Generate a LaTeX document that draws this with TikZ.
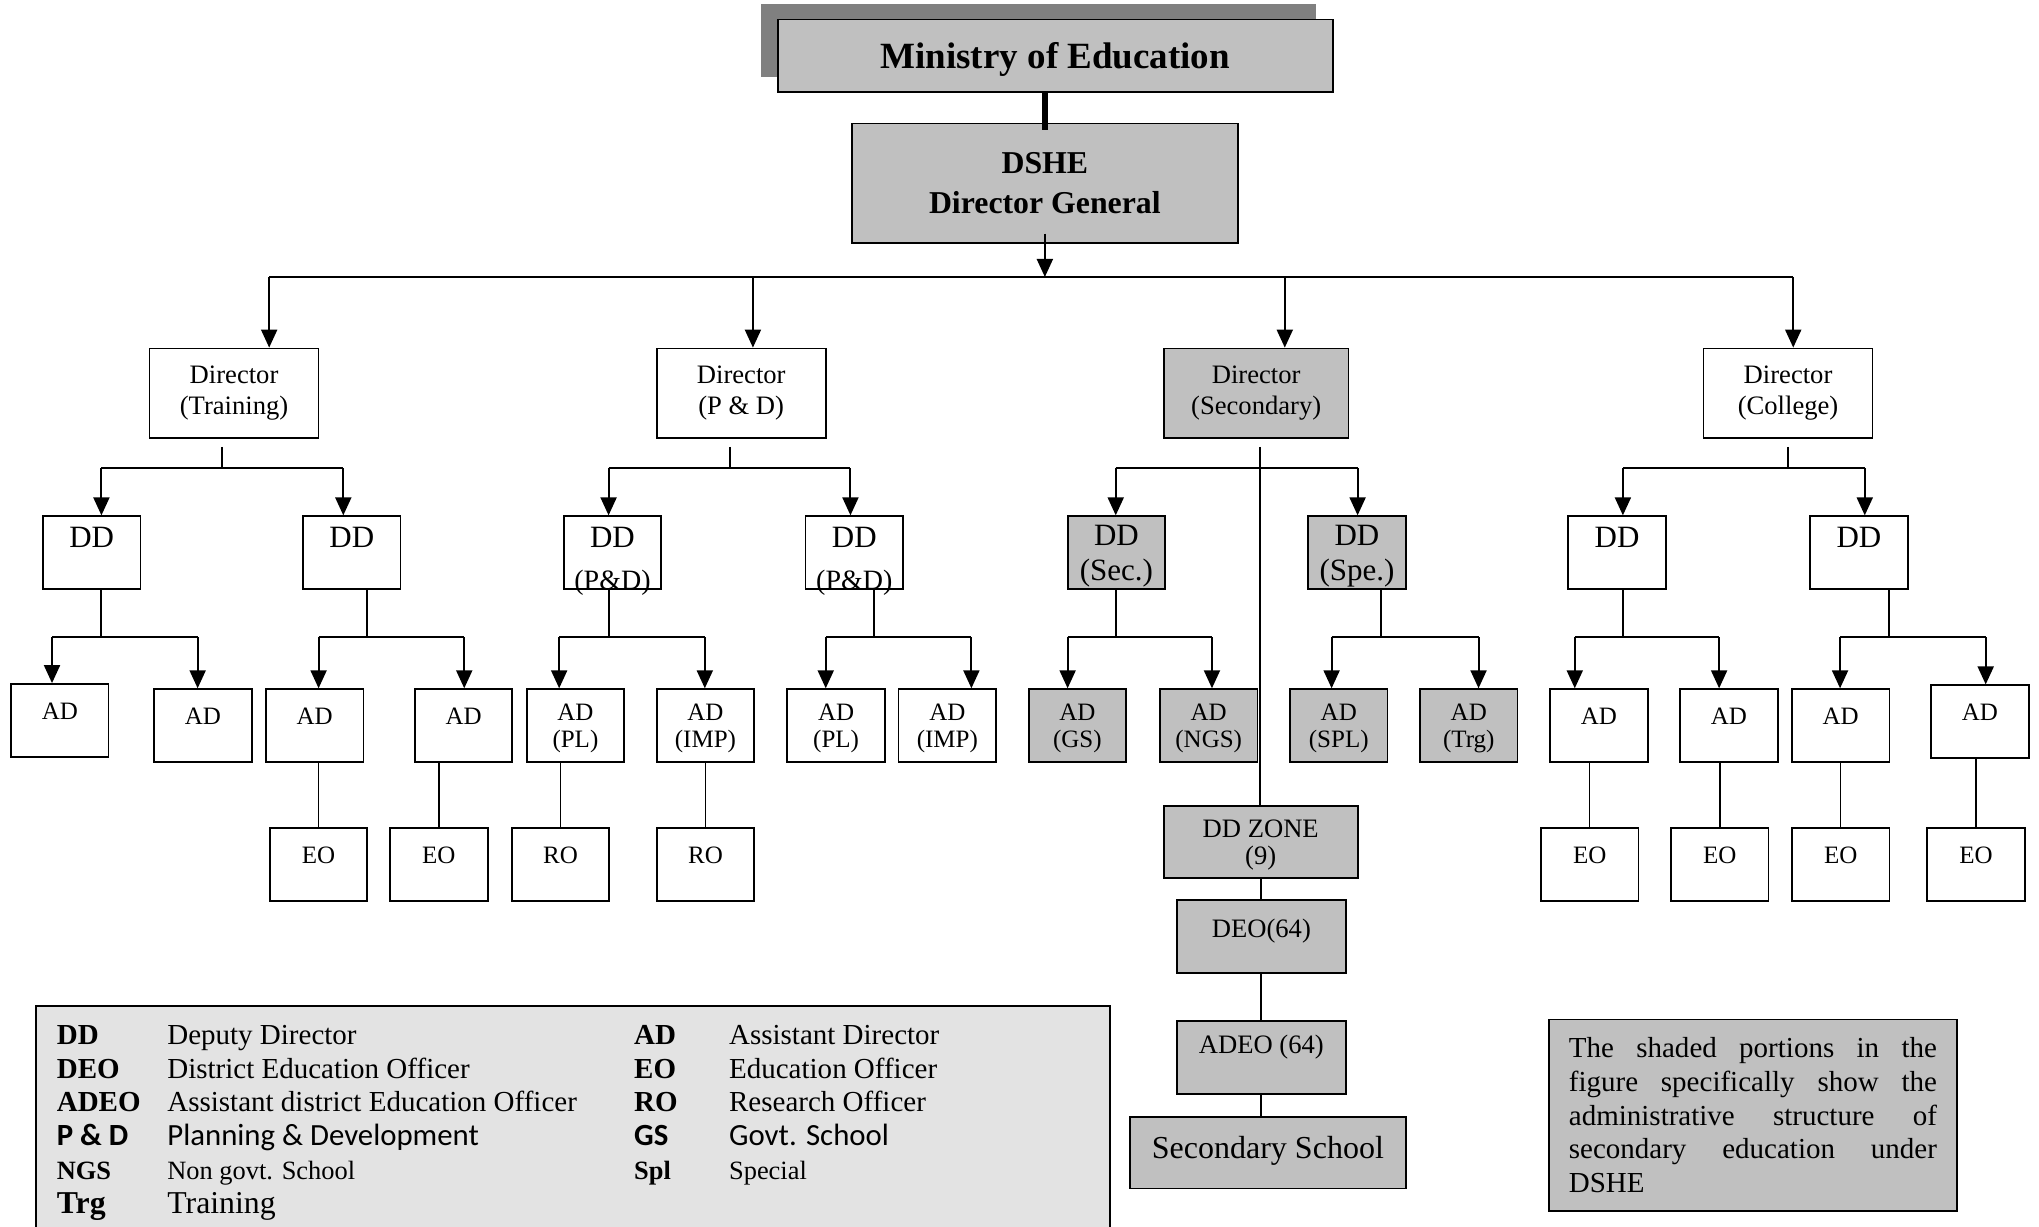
\documentclass[tikz,border=0pt]{standalone}
\usepackage{fontspec}
\setmainfont{Liberation Serif}
\newfontfamily\calibrifont{Carlito}
\usetikzlibrary{arrows.meta,calc}
\hbadness=10000
\definecolor{shade}{HTML}{C0C0C0}
\definecolor{shadowgrey}{HTML}{808080}
\definecolor{legendbg}{HTML}{E3E3E3}
\tikzset{
  box/.style={draw,line width=0.9pt,inner sep=0pt,minimum width=48.75pt,minimum height=36.4pt},
  grey/.style={fill=shade},
  ddone/.style={font=\fontsize{15.5}{17.55}\selectfont,text height=10.2pt,text depth=15.6pt},
  ddtwo/.style={align=center,font=\fontsize{15.5}{17.55}\selectfont,text depth=0pt},
  adone/.style={font=\fontsize{12.5}{13.65}\selectfont,text height=8.3pt,text depth=9.1pt},
  adtwo/.style={align=center,font=\fontsize{12.5}{13.65}\selectfont,text depth=0pt},
  dirbox/.style={box,minimum width=84.5pt,minimum height=44.85pt,align=center,font=\fontsize{13.3}{15.6}\selectfont},
  pdlabel/.style={label={[font=\fontsize{14}{16}\selectfont,anchor=base,inner sep=0pt]south:{(P\&D)}}},
  conn/.style={line width=1pt},
  thinconn/.style={line width=0.75pt},
  arr/.style={conn,-{Triangle[length=9pt,width=8pt]}},
}

\begin{document}
\begin{tikzpicture}[x=0.65pt,y=-0.65pt]
  \useasboundingbox (0,0) rectangle (1568,943);
  \clip (0,0) rectangle (1568,943);
  % head of the chart
  \fill[shadowgrey] (585,3) rectangle (1012,59);
  \node[box,grey,minimum width=277.55pt,font=\bfseries\fontsize{18.5}{22}\selectfont,text height=12.2pt,text depth=0pt] (moe) at (811.5,43) {Ministry of Education};
  \node[box,grey,minimum width=193.05pt,minimum height=59.8pt,align=center,font=\bfseries\fontsize{15.9}{20.15}\selectfont] (dshe) at (803.5,141) {DSHE\\Director General};
  \draw[line width=3pt] (moe.south -| dshe.north) -- ($(dshe.north)+(0,6)$);

  % directors
  \node[dirbox] (dirT) at (180,302.5) {Director\\(Training)};
  \node[dirbox] (dirP) at (570,302.5) {Director\\(P \& D)};
  \node[dirbox,grey,minimum width=92.3pt] (dirS) at (966,302.5) {Director\\(Secondary)};
  \node[dirbox] (dirC) at (1375,302.5) {Director\\(College)};

  % deputy directors
  \foreach \nn/\xx in {ddT1/70.5,ddT2/270.5,ddC1/1243.5,ddC2/1429.5}
    \node[box,ddone] (\nn) at (\xx,425) {DD};
  \node[box,ddone,pdlabel] (ddP1) at (471,425) {DD};
  \node[box,ddone,pdlabel] (ddP2) at (657,425) {DD};
  \node[box,grey,ddtwo] (ddS1) at (858.5,425) {DD\\(Sec.)};
  \node[box,grey,ddtwo] (ddS2) at (1043.5,425) {DD\\(Spe.)};

  % assistant directors
  \foreach \nn/\xx/\yy in {adT1/46/554,adT2/156/558,adT3/242/558,adT4/356.5/558,
      adC1/1229.5/558,adC2/1329.5/558,adC3/1415.5/558,adC4/1522.5/555}
    \node[box,adone] (\nn) at (\xx,\yy) {AD};
  \foreach \nn/\xx/\lab in {adP1/442.5/PL,adP2/542.5/IMP,adP3/643/PL,adP4/728.5/IMP}
    \node[box,adtwo] (\nn) at (\xx,558) {AD\\(\lab)};
  \foreach \nn/\xx/\lab in {adS1/828.5/GS,adS2/929.5/NGS,adS3/1029.5/SPL,adS4/1129.5/Trg}
    \node[box,grey,adtwo] (\nn) at (\xx,558) {AD\\(\lab)};

  % officers
  \foreach \nn/\xx/\lab in {eoT1/245/EO,eoT2/337.5/EO,roP1/431/RO,roP2/542.5/RO,
      eoC1/1222.5/EO,eoC2/1322.5/EO,eoC3/1415.5/EO,eoC4/1519.5/EO}
    \node[box,adone] (\nn) at (\xx,665) {\lab};

  % secondary line
  \node[box,grey,minimum width=96.85pt,minimum height=35.75pt,adtwo,font=\fontsize{13.3}{13.65}\selectfont] (ddz) at (969.5,647.5) {DD ZONE\\(9)};
  \node[box,grey,minimum width=84.5pt,font=\fontsize{13.3}{15}\selectfont,text height=8.8pt,text depth=7.8pt] (deo) at (970,720) {DEO(64)};
  \node[box,grey,minimum width=84.5pt,font=\fontsize{13.3}{15}\selectfont,text height=8.8pt,text depth=13pt] (adeo) at (970,813) {ADEO (64)};
  \node[box,grey,minimum width=137.8pt,minimum height=35.75pt,font=\fontsize{16}{18}\selectfont,text height=10.6pt,text depth=4.6pt] (ss) at (975,886.5) {Secondary School};

  % DSHE to directors
  \coordinate (hub) at (803.5,213);
  \foreach \dn/\xx in {dirT/207,dirP/579,dirS/988,dirC/1379}
    \coordinate (\dn-in) at (\xx,213);
  \draw[conn] (dirT-in) -- (dirC-in);
  \draw[arr] ($(dshe.south)+(0,-8)$) -- (hub);
  \foreach \dn in {dirT,dirP,dirS,dirC}
    \draw[arr] (\dn-in) -- (\dn-in |- \dn.north);

  % directors to deputy directors
  \foreach \dn/\sx/\lx/\ln/\rx/\rn in {dirT/171/78/ddT1/264/ddT2,dirP/561/468/ddP1/654/ddP2,
      dirS/969/858/ddS1/1044/ddS2,dirC/1375/1248/ddC1/1434/ddC2}{
    \coordinate (\dn-j) at (\sx,360);
    \coordinate (\dn-l) at (\lx,360);
    \coordinate (\dn-r) at (\rx,360);
    \draw[conn] ($(\dn-j |- \dn.south)+(0,6)$) -- (\dn-j);
    \draw[conn] (\dn-l) -- (\dn-r);
    \draw[arr] (\dn-l) -- (\dn-l |- \ln.north);
    \draw[arr] (\dn-r) -- (\dn-r |- \rn.north);
  }

  % deputy directors to assistant directors
  \foreach \dn/\sx/\lx/\ln/\rx/\rn in {ddT1/78/40/adT1/152/adT2,ddT2/282/245/adT3/357/adT4,
      ddP1/468/430/adP1/542/adP2,ddP2/672/635/adP3/747/adP4,
      ddS1/858/821/adS1/932/adS2,ddS2/1062/1024/adS3/1137/adS4,
      ddC1/1248/1211/adC1/1322/adC2,ddC2/1453/1415/adC3/1527/adC4}{
    \coordinate (\dn-j) at (\sx,490);
    \coordinate (\dn-l) at (\lx,490);
    \coordinate (\dn-r) at (\rx,490);
    \draw[conn] (\dn-j |- \dn.south) -- (\dn-j);
    \draw[conn] (\dn-l) -- (\dn-r);
    \draw[arr] (\dn-l) -- (\dn-l |- \ln.north);
    \draw[arr] (\dn-r) -- (\dn-r |- \rn.north);
  }

  % assistant directors to officers
  \foreach \aa/\ee in {adT3/eoT1,adT4/eoT2,adP1/roP1,adP2/roP2,adC1/eoC1,adC2/eoC2,adC3/eoC3,adC4/eoC4}
    \draw[thinconn] (\ee.north) -- (\ee.north |- \aa.south);

  % secondary chain
  \draw[conn] (dirS-j) -- (dirS-j |- ddz.north);
  \draw[conn] (ddz.south) -- (ddz.south |- deo.north);
  \draw[conn] (deo.south) -- (adeo.north);
  \draw[conn] (adeo.south) -- (adeo.south |- ss.north);

  % legend
  \node[draw,line width=0.9pt,fill=legendbg,anchor=north west,inner xsep=10.4pt,inner ysep=7.3pt,
    font=\fontsize{14.5}{16.9}\selectfont] (legend) at (27,773) {%
    \setlength\tabcolsep{0pt}%
    \begin{tabular}{p{55.25pt}p{233.35pt}p{47.45pt}p{180pt}}
      \textbf{DD} & Deputy Director & \textbf{AD} & Assistant Director\\
      \textbf{DEO} & District Education Officer & \textbf{EO} & Education Officer\\
      \textbf{ADEO} & Assistant district Education Officer & \textbf{RO} & Research Officer\\
      \fontsize{15.4}{16.9}\selectfont\calibrifont\bfseries P \& D & \fontsize{15.4}{16.9}\selectfont\calibrifont Planning \& Development &
      \fontsize{15.4}{16.9}\selectfont\calibrifont\bfseries GS & \fontsize{15.4}{16.9}\selectfont\calibrifont Govt. School\\
      \fontsize{13.2}{16.9}\selectfont\textbf{NGS} & \fontsize{13.2}{16.9}\selectfont Non govt. School &
      \fontsize{13.2}{16.9}\selectfont\textbf{Spl} & \fontsize{13.2}{16.9}\selectfont Special\\
      \fontsize{15.9}{17.5}\selectfont\textbf{Trg} & \fontsize{15.9}{17.5}\selectfont Training & & \\
    \end{tabular}};

  % note
  \node[box,grey,minimum width=204.1pt,minimum height=95.55pt,text width=184pt,align=justify,
    font=\fontsize{14.5}{16.9}\selectfont] (note) at (1348,857.5)
    {The shaded portions in the\linebreak figure specifically show the\linebreak administrative structure of\linebreak secondary education under\linebreak DSHE};
\end{tikzpicture}
\end{document}
